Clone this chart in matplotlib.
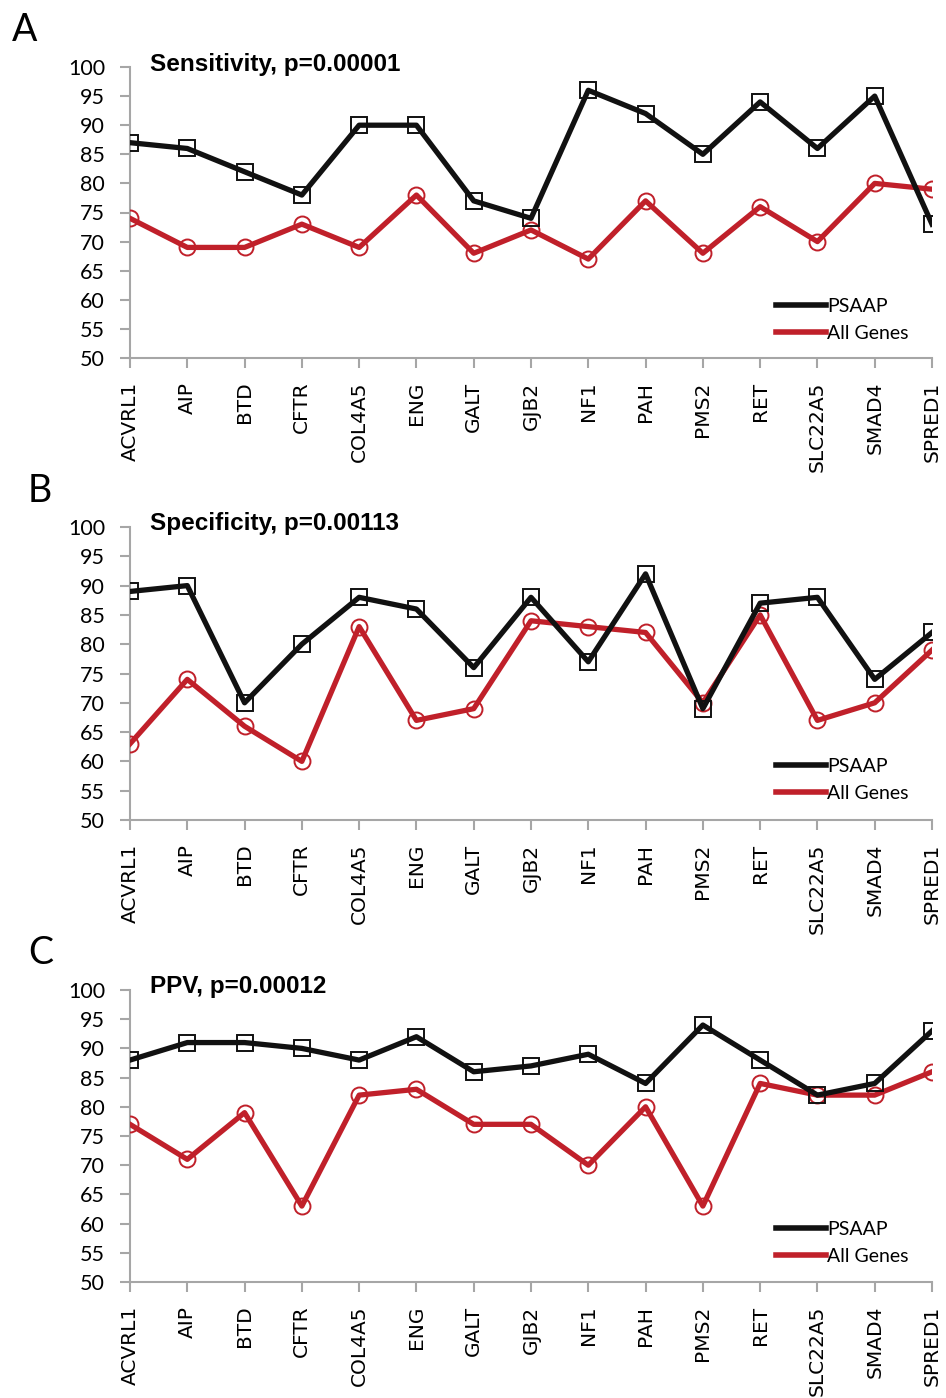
import numpy as np
import matplotlib.pyplot as plt
from matplotlib.lines import Line2D

genes = ["ACVRL1", "AIP", "BTD", "CFTR", "COL4A5", "ENG", "GALT", "GJB2",
         "NF1", "PAH", "PMS2", "RET", "SLC22A5", "SMAD4", "SPRED1"]

# Sensitivity
sens_psaap = [87, 86, 82, 78, 90, 90, 77, 74, 96, 92, 85, 94, 86, 95, 73]
sens_all = [74, 69, 69, 73, 69, 78, 68, 72, 67, 77, 68, 76, 70, 80, 79]

# Specificity
spec_psaap = [89, 90, 70, 80, 88, 86, 76, 88, 77, 92, 69, 87, 88, 74, 82]
spec_all = [63, 74, 66, 60, 83, 67, 69, 84, 83, 82, 70, 85, 67, 70, 79]

# PPV
ppv_psaap = [88, 91, 91, 90, 88, 92, 86, 87, 89, 84, 94, 88, 82, 84, 93]
ppv_all = [77, 71, 79, 63, 82, 83, 77, 77, 70, 80, 63, 84, 82, 82, 86]

titles = ["Sensitivity, p=0.00001", "Specificity, p=0.00113", "PPV, p=0.00012"]
letters = ["A", "B", "C"]
series = [(sens_psaap, sens_all), (spec_psaap, spec_all), (ppv_psaap, ppv_all)]

W, H = 946, 1398
fig = plt.figure(figsize=(W / 100, H / 100), dpi=100)

black = "#111111"
red = "#c0202a"
grey = "#a6a6a6"

# panel geometry in pixels: (top of y axis, bottom of y axis)
panels = [(67, 358), (527, 820), (990, 1282)]
letter_pos = [(12, 30), (28, 491), (28, 953)]
x0, x1 = 130, 932

x = np.arange(len(genes))

for i, (top, bot) in enumerate(panels):
    ax = fig.add_axes([x0 / W, 1 - bot / H, (x1 - x0) / W, (bot - top) / H])
    psaap, allg = series[i]
    ax.plot(x, allg, color=red, lw=3.8, marker="o", ms=11.5, mfc="none",
            mec=red, mew=1.4, solid_joinstyle="round", zorder=3)
    ax.plot(x, psaap, color=black, lw=3.8, marker="s", ms=11.5, mfc="none",
            mec=black, mew=1.4, solid_joinstyle="round", zorder=4)
    ax.set_xlim(0, len(genes) - 1)
    ax.set_ylim(50, 100)
    ax.set_yticks(range(50, 101, 5))
    ax.set_xticks(x)
    ax.set_xticklabels(genes, rotation=90, family="DejaVu Sans", fontsize=14.5)
    for lab in ax.get_yticklabels():
        lab.set_family("Lato")
        lab.set_fontsize(15.5)
    for s in ["top", "right"]:
        ax.spines[s].set_visible(False)
    for s in ["left", "bottom"]:
        ax.spines[s].set_color(grey)
        ax.spines[s].set_linewidth(1.5)
    ax.tick_params(axis="both", colors=grey, width=1.5, length=7,
                   labelcolor="black")
    ax.tick_params(axis="y", pad=11)
    ax.tick_params(axis="x", pad=10)

    fig.text(150 / W, 1 - (top - 3) / H, titles[i], fontsize=17.5,
             fontweight="bold", family="Liberation Sans", va="center")
    lx, ly = letter_pos[i]
    fig.text(lx / W, 1 - ly / H, letters[i], fontsize=27, family="Lato",
             va="center")

    handles = [Line2D([0], [0], color=black, lw=4),
               Line2D([0], [0], color=red, lw=4)]
    ax.legend(handles, ["PSAAP", "All Genes"], loc="center left",
              bbox_to_anchor=(768 / W, 1 - (top + 253) / H),
              bbox_transform=fig.transFigure, frameon=False,
              prop={"family": "Lato", "size": 14}, handlelength=2.6,
              handletextpad=0.05, labelspacing=0.5, borderaxespad=0)

fig.savefig("out.png", dpi=100)
